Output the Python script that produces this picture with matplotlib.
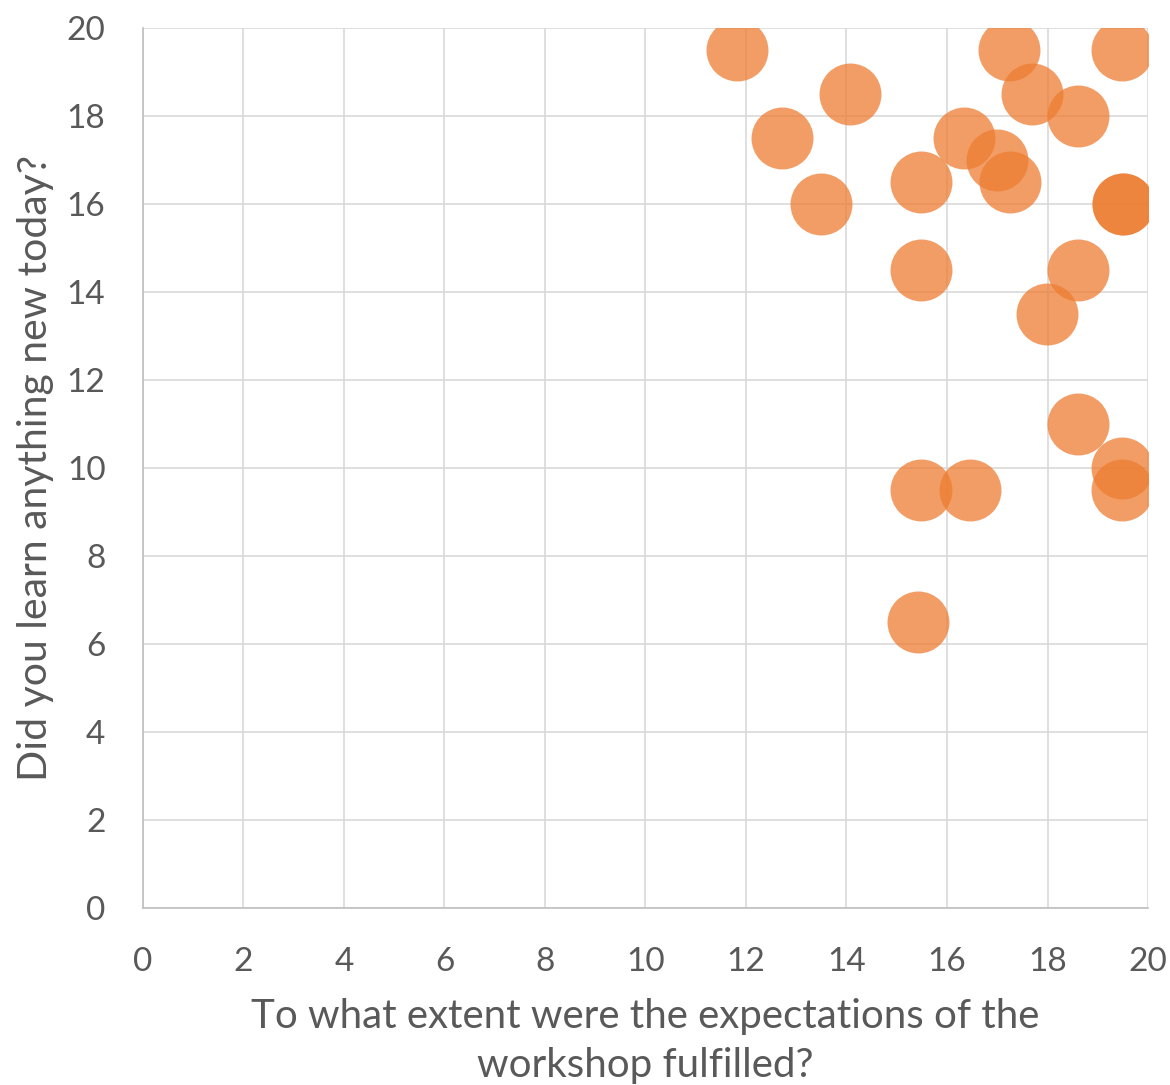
import matplotlib.pyplot as plt

# workshop survey answers (expectations fulfilled vs. learned something new)
expect = [11.82, 12.72, 14.07, 13.49, 15.48, 15.48, 16.34, 17.0, 17.25, 17.23, 17.69,
          18.6, 19.48, 19.5, 19.5, 18.6, 17.99, 18.6, 19.48, 19.48, 15.48, 16.46, 15.42]
learned = [19.5, 17.5, 18.5, 16.0, 16.5, 14.5, 17.5, 17.0, 16.5, 19.5, 18.5,
           18.0, 19.5, 16.0, 16.0, 14.5, 13.5, 11.0, 10.0, 9.5, 9.5, 9.5, 6.5]
ticks = list(range(0, 21, 2))

plt.rcParams['font.family'] = ['Lato', 'DejaVu Sans']
grey = '#595959'

fig = plt.figure(figsize=(11.7, 10.85), dpi=100)
ax = fig.add_axes([0.1222, 0.1631, 0.859, 0.8111])

ax.scatter(expect, learned, s=1990, color='#ED7D31', alpha=0.75, linewidths=0, zorder=3)

ax.set_xlim(0, 20)
ax.set_ylim(0, 20)
ax.set_xticks(ticks)
ax.set_yticks(ticks)
ax.tick_params(length=0, labelsize=24, labelcolor=grey)
ax.tick_params(axis='x', pad=28)
ax.tick_params(axis='y', pad=27)
ax.grid(True, color='#d9d9d9', linewidth=1.2, zorder=0)
for side in ['top', 'right']:
    ax.spines[side].set_visible(False)
for side in ['left', 'bottom']:
    ax.spines[side].set_color('#bfbfbf')
    ax.spines[side].set_linewidth(1.2)

ax.set_xlabel('To what extent were the expectations of the\nworkshop fulfilled?',
              fontsize=29, color=grey, labelpad=15, linespacing=1.4)
ax.set_ylabel('Did you learn anything new today?', fontsize=29.5, color=grey, labelpad=9)

fig.savefig('out.png', dpi=100)
